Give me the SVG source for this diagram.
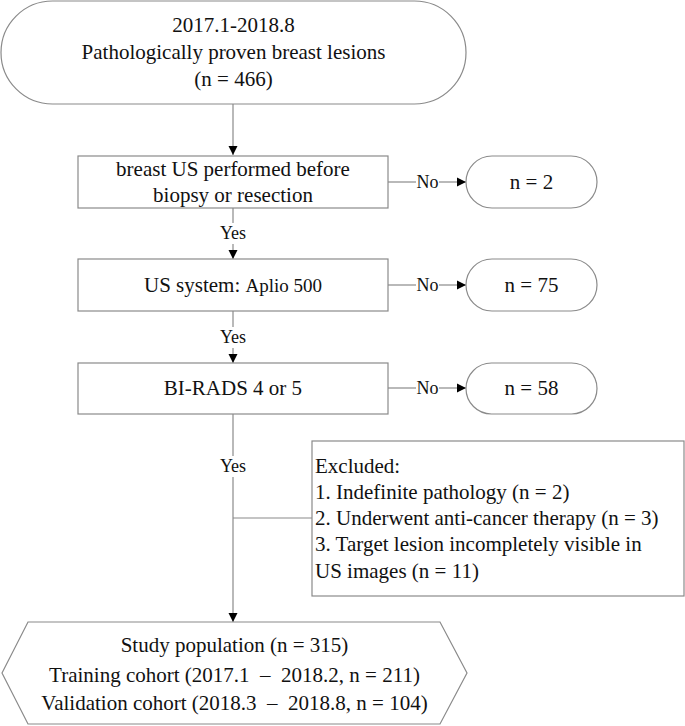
<svg xmlns="http://www.w3.org/2000/svg" width="685" height="726" viewBox="0 0 685 726" font-family="Liberation Serif, Times New Roman, serif">
<style>
  .shape { fill: #ffffff; stroke: #8a8a8a; stroke-width: 1.2; }
  .line { fill: none; stroke: #8a8a8a; stroke-width: 1.2; }
  .t { font-size: 21px; fill: #111111; }
  .c { text-anchor: middle; }
  .lbl { font-size: 18px; fill: #111111; text-anchor: middle; }
</style>
<defs>
  <marker id="arr" markerUnits="userSpaceOnUse" markerWidth="10" markerHeight="10" refX="9" refY="5" orient="auto">
    <path d="M0,0.5 L9,5 L0,9.5 Z" fill="#000000"/>
  </marker>
</defs>

<g id="connectors">
  <path class="line" d="M233,104 V155" marker-end="url(#arr)"/>
  <path class="line" d="M233,208 V223"/>
  <text class="lbl" x="233" y="239">Yes</text>
  <path class="line" d="M233,244 V259" marker-end="url(#arr)"/>
  <path class="line" d="M233,311 V327"/>
  <text class="lbl" x="233" y="343">Yes</text>
  <path class="line" d="M233,348 V363" marker-end="url(#arr)"/>
  <path class="line" d="M233,414 V456"/>
  <text class="lbl" x="233" y="472">Yes</text>
  <path class="line" d="M233,477 V622" marker-end="url(#arr)"/>
  <path class="line" d="M233,518 H312"/>
  <path class="line" d="M388,182 H416"/>
  <text class="lbl" x="427.5" y="188">No</text>
  <path class="line" d="M439,182 H466" marker-end="url(#arr)"/>
  <path class="line" d="M388,285 H416"/>
  <text class="lbl" x="427.5" y="291">No</text>
  <path class="line" d="M439,285 H466" marker-end="url(#arr)"/>
  <path class="line" d="M388,388 H416"/>
  <text class="lbl" x="427.5" y="394">No</text>
  <path class="line" d="M439,388 H466" marker-end="url(#arr)"/>
</g>

<g id="start">
  <rect class="shape" x="1" y="1" width="465" height="103" rx="51.5" ry="51.5"/>
  <text class="t c" x="233.5" y="32">2017.1-2018.8</text>
  <text class="t c" x="233.5" y="59">Pathologically proven breast lesions</text>
  <text class="t c" x="233.5" y="86">(n = 466)</text>
</g>

<g id="step1">
  <rect class="shape" x="78" y="156" width="310" height="52"/>
  <text class="t c" x="233" y="176">breast US performed before</text>
  <text class="t c" x="233" y="202">biopsy or resection</text>
</g>

<g id="excl1">
  <rect class="shape" x="466" y="156" width="131" height="52" rx="26" ry="26"/>
  <text class="t c" x="531.5" y="189">n = 2</text>
</g>

<g id="step2">
  <rect class="shape" x="78" y="259" width="310" height="52"/>
  <text class="t c" x="233" y="292">US system: <tspan font-size="19px">Aplio 500</tspan></text>
</g>

<g id="excl2">
  <rect class="shape" x="466" y="259" width="131" height="52" rx="26" ry="26"/>
  <text class="t c" x="531.5" y="292">n = 75</text>
</g>

<g id="step3">
  <rect class="shape" x="78" y="363" width="310" height="51"/>
  <text class="t c" x="233" y="395">BI-RADS 4 or 5</text>
</g>

<g id="excl3">
  <rect class="shape" x="466" y="363" width="131" height="51" rx="25.5" ry="25.5"/>
  <text class="t c" x="531.5" y="395">n = 58</text>
</g>

<g id="excluded">
  <rect class="shape" x="312" y="441" width="372" height="155"/>
  <text class="t" x="315" y="473">Excluded:</text>
  <text class="t" x="315" y="499">1. Indefinite pathology (n = 2)</text>
  <text class="t" x="315" y="525">2. Underwent anti-cancer therapy (n = 3)</text>
  <text class="t" x="315" y="551">3. Target lesion incompletely visible in</text>
  <text class="t" x="315" y="578">US images (n = 11)</text>
</g>

<g id="population">
  <polygon class="shape" points="2,673 28,622 440,622 467,673 440,724 28,724"/>
  <text class="t c" x="234.5" y="652">Study population (n = 315)</text>
  <text class="t c" x="234.5" y="682" xml:space="preserve">Training cohort (2017.1  –  2018.2, n = 211)</text>
  <text class="t c" x="234.5" y="710" xml:space="preserve">Validation cohort (2018.3  –  2018.8, n = 104)</text>
</g>
</svg>
